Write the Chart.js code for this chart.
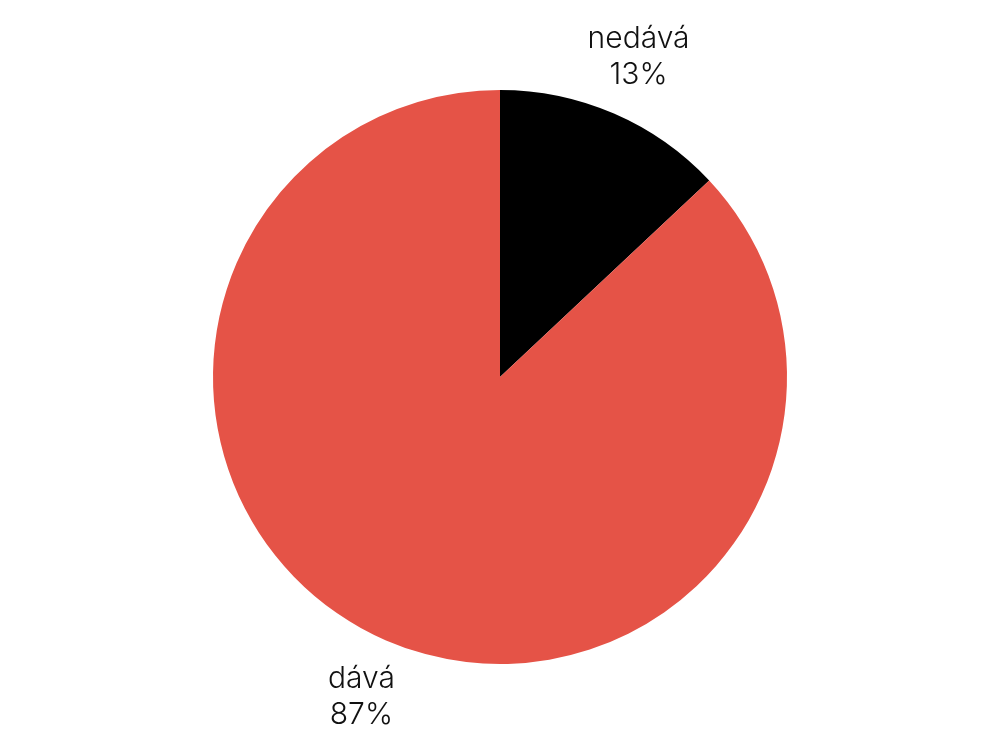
<!DOCTYPE html>
<html>
<head>
<meta charset="utf-8">
<script src="https://cdn.jsdelivr.net/npm/chart.js@4"></script>
<style>
  html, body { margin: 0; padding: 0; background: #fff; }
  #wrap { width: 1000px; height: 750px; }
</style>
</head>
<body>
<div id="wrap"><canvas id="myChart"></canvas></div>
<script>
// data
let categories = ["nedává", "dává"];
let shares = [13, 87];
let sliceColors = ["#000000", "#E55347"];

// draws the two-line labels outside each slice
const outsideLabels = {
  id: "outsideLabels",
  afterDatasetsDraw(chart) {
    let ctx = chart.ctx;
    let meta = chart.getDatasetMeta(0);
    ctx.save();
    ctx.fillStyle = "#111";
    ctx.font = "300 30px Inter, 'Open Sans', sans-serif";
    ctx.textAlign = "center";
    ctx.textBaseline = "middle";
    meta.data.forEach(function (arc, i) {
      let mid = (arc.startAngle + arc.endAngle) / 2;
      let r = arc.outerRadius + 62;
      let x = arc.x + Math.cos(mid) * r;
      let y = arc.y + Math.sin(mid) * r;
      ctx.fillText(categories[i], x, y - 18);
      ctx.fillText(shares[i] + "%", x, y + 18);
    });
    ctx.restore();
  },
};

let canvasChart = document.getElementById("myChart").getContext("2d");
const myChart = new Chart(canvasChart, {
  type: "pie",
  data: {
    labels: categories,
    datasets: [
      {
        data: shares,
        backgroundColor: sliceColors,
        borderWidth: 0,
      },
    ],
  },
  options: {
    responsive: true,
    maintainAspectRatio: false,
    animation: false,
    layout: { padding: { top: 90, bottom: 86 } },
    plugins: {
      legend: { display: false },
      tooltip: { enabled: false },
    },
  },
  plugins: [outsideLabels],
});
</script>
</body>
</html>
